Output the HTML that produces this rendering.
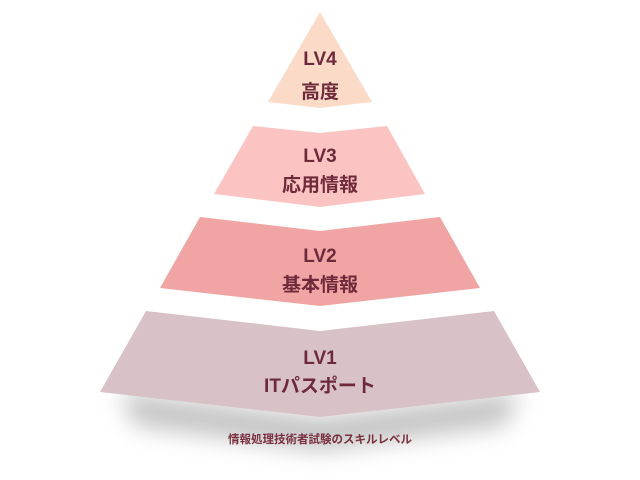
<!DOCTYPE html>
<html><head><meta charset="utf-8"><style>
html,body{margin:0;padding:0;background:#fff;width:640px;height:480px;overflow:hidden}
text{font-family:"Liberation Sans","Noto Sans CJK JP",sans-serif;font-weight:bold;fill:#6e2a3a;text-anchor:middle}
</style></head><body>
<svg width="640" height="480" viewBox="0 0 640 480">
<defs><filter id="sh" x="-30%" y="-80%" width="160%" height="260%"><feGaussianBlur stdDeviation="12"/></filter></defs>
<polygon points="120,392 320,418 520,392 505,425 320,450 135,425" fill="#999" opacity="0.6" filter="url(#sh)"/>
<polygon points="320,12 372,102 320,108 268,102" fill="#fbdac8"/>
<polygon points="253,126 320,133 387,126 425,194 320,207 214,194" fill="#fbc4c2"/>
<polygon points="200,217 320,231 440,217 480,288 320,306 160,288" fill="#f0a4a4"/>
<polygon points="146,311 320,331 494,311 540,392 320,417 100,392" fill="#d8c2c7"/>
<g font-size="19">
<text x="320" y="65">LV4</text><text x="320" y="98">高度</text>
<text x="320" y="162">LV3</text><text x="320" y="191">応用情報</text>
<text x="320" y="262">LV2</text><text x="320" y="291">基本情報</text>
<text x="320" y="364">LV1</text><text x="320" y="392">ITパスポート</text>
</g>
<text x="320" y="443" font-size="11.5" style="fill:#7a3040">情報処理技術者試験のスキルレベル</text>
</svg>
</body></html>
